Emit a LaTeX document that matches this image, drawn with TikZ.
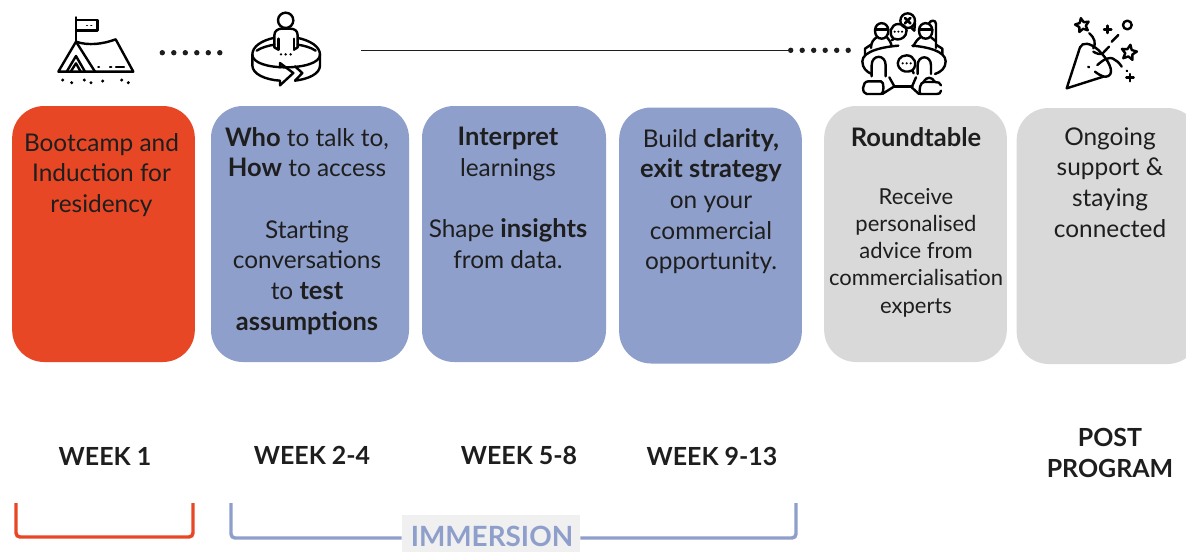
\documentclass[tikz,border=0pt]{standalone}
\usepackage{fontspec}
\setmainfont{Lato}[BoldFeatures={Scale=1.045}]
\usepackage{xcolor}
\usetikzlibrary{arrows.meta, shapes}
\definecolor{redbox}{RGB}{232, 71, 38}
\definecolor{bluebox}{RGB}{143, 159, 203}
\definecolor{greybox}{RGB}{217, 217, 217}
\definecolor{labelgrey}{RGB}{240, 240, 240}
\definecolor{inkdark}{RGB}{30, 30, 30}
\tikzset{
    phase/.style={rounded corners=24pt, minimum height=192pt, inner sep=0pt},
    phasetext/.style={anchor=north, align=center, text=inkdark, inner sep=0pt, font=\fontsize{18.3}{23}\selectfont},
    smalltext/.style={phasetext, font=\fontsize{16.5}{20.4}\selectfont},
    weeklabel/.style={align=center, text=inkdark, inner sep=0pt, font=\fontsize{17.9}{23}\selectfont\bfseries},
    icon/.style={draw=black, line width=1.8pt, line cap=round, line join=round},
    thinicon/.style={icon, line width=1.2pt},
    starmark/.style={draw=black, line width=1.8pt, line join=round, star, star points=5, star point ratio=2.1, inner sep=0pt, minimum size=#1},
    bracket/.style={line width=2.6pt, rounded corners=3pt}
}
\begin{document}
\begin{tikzpicture}[x=0.75pt, y=-0.75pt]
    \clip (0,0) rectangle (1186,551);
    \fill[white] (0,0) rectangle (1186,551);

    % boxes
    \node[phase, fill=redbox, minimum width=137pt] (bootcamp) at (103.5,234) {};
    \node[phase, fill=bluebox, minimum width=148.5pt] (who) at (310,234) {};
    \node[phase, fill=bluebox, minimum width=138pt] (interpret) at (514,234) {};
    \node[phase, fill=bluebox, minimum width=137pt] (clarity) at (710.5,235.5) {};
    \node[phase, fill=greybox, minimum width=137pt] (roundtable) at (915.5,234) {};
    \node[phase, fill=greybox, minimum width=137pt] (ongoing) at (1108,236) {};

    % box texts
    \node[phasetext] (bootcamptext) at (101.5,133) {Bootcamp and\\Induction for\\residency};
    \node[phasetext] (whotext) at (307,127) {\textbf{Who} to talk to,\\\textbf{How} to access\\[23pt]Starting\\conversations\\to \textbf{test}\\\textbf{assumptions}};
    \node[phasetext] (interprettext) at (508,127) {\textbf{Interpret}\\learnings\\[23pt]Shape \textbf{insights}\\from data.};
    \node[phasetext] (claritytext) at (711,128) {Build \textbf{clarity,}\\\textbf{exit strategy}\\on your\\commercial\\opportunity.};
    \node[phasetext] (roundtabletext) at (916,127) {\textbf{Roundtable}};
    \node[smalltext] (advicetext) at (916,188) {Receive\\personalised\\advice from\\commercialisation\\experts};
    \node[phasetext] (ongoingtext) at (1110,127) {Ongoing\\support \&\\staying\\connected};

    % week labels
    \node[weeklabel] (week1) at (105,456) {WEEK 1};
    \node[weeklabel] (week2) at (312,455) {WEEK 2-4};
    \node[weeklabel] (week5) at (519,455) {WEEK 5-8};
    \node[weeklabel] (week9) at (712,456) {WEEK 9-13};
    \node[weeklabel] (post) at (1110,453) {POST\\PROGRAM};

    % brackets
    \coordinate (redleft) at (16,503);
    \coordinate (redbottom) at (104,537);
    \coordinate (redright) at (193,503);
    \draw[bracket, redbox] (redleft) |- (redbottom) -| (redright);
    \node[fill=labelgrey, minimum width=133.5pt, minimum height=27.7pt, inner sep=0pt] (immersion) at (491,533.5) {};
    \node[text=bluebox, inner sep=0pt, font=\fontsize{20}{21}\selectfont\bfseries] (immersiontext) at (492,536.5) {IMMERSION};
    \coordinate (blueleft) at (231,503);
    \coordinate (blueright) at (796,503);
    \draw[bracket, bluebox] (blueleft) |- (immersion.west |- 0,538);
    \draw[bracket, bluebox] (blueright) |- (immersion.east |- 0,538);

    % dotted timeline
    \foreach \n in {0,...,5} {
        \fill[inkdark] (162.3+\n*11.5,52.7) circle (2.7);
        \fill[inkdark] (790.7+\n*11.5,50.3) circle (2.7);
    }
    \coordinate (linestart) at (361,50.5);
    \coordinate (lineend) at (790,50.5);
    \draw[inkdark, line width=0.8pt] (linestart) -- (lineend);

    % tent
    \begin{scope}[shift={(50,10)}, scale=1/3]
        \draw[icon] (78,22) -- (78,95);
        \draw[icon] (78,30) rectangle (142,62);
        \draw[thinicon] (110,46) -- (112,46) (123,46) -- (125,46);
        \draw[icon] (25,185) -- (250,185) -- (197,88) .. controls (160,102) and (115,108) .. (78,95) -- cycle;
        \draw[icon] (78,95) -- (135,185);
        \draw[icon] (50,185) -- (78,138) -- (105,185);
        \draw[icon] (62,185) -- (78,160) -- (92,185);
        \draw[icon] (145,171) -- (147,171) (180,171) -- (184,171) (198,171) -- (222,171);
        \foreach \px/\py in {38/210,65/218,103/210,123/218,158/213,215/210,235/218} {
            \fill (\px,\py) circle (5);
        }
    \end{scope}

    % person in ring
    \begin{scope}[shift={(245,8)}, scale=1/3]
        \draw[icon] (122,37) circle (23);
        \draw[icon] (88,118) -- (88,82) .. controls (88,68) and (100,62) .. (110,62) -- (136,62) .. controls (148,62) and (158,68) .. (158,82) -- (158,118);
        \draw[icon] (100,92) -- (100,125) (147,92) -- (147,125);
        \draw[icon] (88,118) -- (100,125) (158,118) -- (147,125);
        \foreach \px in {108,122,137} {
            \fill (\px,139) circle (4);
        }
        \draw[icon] (85,90) .. controls (50,98) and (22,115) .. (22,140) .. controls (22,165) and (70,178) .. (122,178) .. controls (175,178) and (225,165) .. (225,140) .. controls (225,115) and (195,98) .. (160,90);
        \draw[icon] (35,128) .. controls (50,118) and (70,113) .. (88,110) (158,110) .. controls (178,113) and (197,118) .. (212,128);
        \draw[icon] (22,140) -- (22,172) .. controls (22,198) and (60,215) .. (105,218) -- (105,232) -- (145,195) -- (105,165) -- (105,178);
        \draw[icon] (225,140) -- (225,172) .. controls (225,198) and (190,213) .. (150,218) -- (172,195) -- (150,175);
    \end{scope}

    % roundtable
    \begin{scope}[shift={(855,8)}, scale=1/3]
        % table
        \draw[icon] (130,113) .. controls (90,116) and (22,128) .. (22,160) .. controls (22,180) and (35,192) .. (50,198);
        \draw[icon] (172,113) .. controls (212,116) and (272,128) .. (272,160) .. controls (272,180) and (258,192) .. (240,198);
        \draw[icon] (118,235) -- (172,235);
        \draw[icon] (30,140) -- (30,122) -- (48,110) (262,140) -- (262,122) -- (243,110);
        % back people
        \draw[icon] (60,68) .. controls (60,38) and (100,38) .. (100,68) .. controls (100,82) and (92,92) .. (80,92) .. controls (68,92) and (60,82) .. (60,68);
        \draw[icon] (60,64) -- (100,64);
        \draw[icon] (65,88) .. controls (55,94) and (48,104) .. (48,120) (96,88) .. controls (103,94) and (108,104) .. (110,115);
        \draw[icon] (192,68) .. controls (192,38) and (232,38) .. (232,68) .. controls (232,82) and (224,92) .. (212,92) .. controls (200,92) and (192,82) .. (192,68);
        \draw[icon] (192,64) -- (232,64);
        \draw[icon] (196,88) .. controls (187,94) and (180,104) .. (175,115) (228,88) -- (243,100);
        \draw[icon] (222,46) .. controls (226,36) and (243,34) .. (243,48) -- (243,120);
        % front people
        \draw[icon] (50,205) -- (50,172) .. controls (50,138) and (92,138) .. (92,172) -- (92,205);
        \draw[icon] (188,198) -- (188,172) .. controls (188,140) and (228,140) .. (228,172) -- (228,198);
        % chairs
        \draw[icon] (40,220) -- (78,220) .. controls (88,220) and (88,258) .. (78,258) -- (35,258) .. controls (20,258) and (20,220) .. (40,220);
        \draw[icon] (82,258) -- (118,235) -- (103,208);
        \draw[icon] (258,232) .. controls (255,224) and (250,222) .. (240,222) -- (208,222) .. controls (195,222) and (192,245) .. (195,258) -- (245,258) .. controls (252,258) and (258,256) .. (258,248);
        \draw[icon] (192,258) -- (170,238) -- (183,208);
        \draw[icon] (205,222) .. controls (215,205) and (230,205) .. (240,222);
        % bubbles
        \draw[icon] (158,38) circle (22);
        \draw[icon, line width=2pt] (150,30) -- (166,46) (166,30) -- (150,46);
        \draw[icon] (168,58) -- (178,68) -- (180,44);
        \draw[icon] (111,97) -- (116,92) .. controls (98,78) and (108,48) .. (130,48) .. controls (150,48) and (160,62) .. (152,80) .. controls (146,92) and (130,98) .. (118,92);
        \foreach \px in {119,130,141} {
            \fill (\px,71) circle (3.5);
        }
        \draw[icon] (176,196) -- (172,187) .. controls (190,170) and (178,142) .. (155,142) .. controls (135,142) and (122,160) .. (132,178) .. controls (140,192) and (158,194) .. (172,187);
        \foreach \px in {143,155,167} {
            \fill (\px,166) circle (3.5);
        }
    \end{scope}

    % party popper
    \begin{scope}[shift={(1060,10)}, scale=1/3]
        \draw[icon] (60,112) -- (20,235) -- (130,200);
        \draw[icon] (60,112) .. controls (68,95) and (90,98) .. (115,120) .. controls (145,148) and (165,188) .. (145,198) .. controls (135,203) and (125,200) .. (105,185);
        \draw[icon] (88,70) .. controls (105,85) and (108,100) .. (100,115);
        \draw[icon] (100,125) .. controls (108,130) and (120,135) .. (128,130) -- (147,110);
        \draw[icon] (155,95) -- (175,75);
        \draw[icon] (112,165) .. controls (130,150) and (148,135) .. (165,150) .. controls (175,155) and (182,165) .. (185,170);
        \draw[icon] (85,170) -- (87,172);
        \draw[icon] (200,182) -- (201,183);
        \draw[icon] (143,47) -- (143,69) (132,58) -- (154,58);
        \draw[icon] (210,192) -- (210,214) (199,203) -- (221,203);
        \draw[icon] (202,45) circle (13);
        \node[starmark=11pt, rotate=12] (startop) at (67,46) {};
        \node[starmark=12pt, rotate=-10] (starright) at (207,128) {};
    \end{scope}
\end{tikzpicture}
\end{document}
